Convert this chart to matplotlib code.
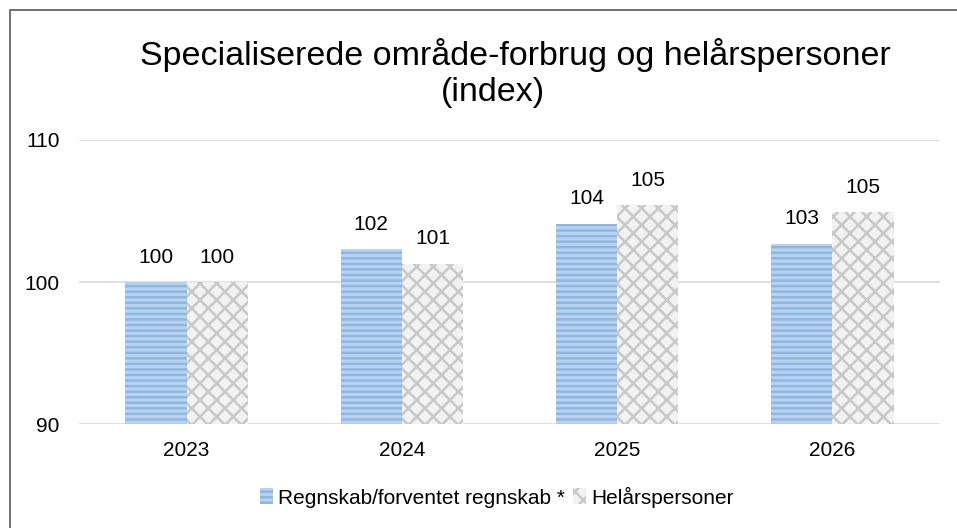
import matplotlib
matplotlib.use("Agg")
from matplotlib import pyplot as plt
from matplotlib.patches import Rectangle
import numpy as np

plt.rcParams['font.family'] = ['Liberation Sans', 'DejaVu Sans']
plt.rcParams['hatch.linewidth'] = 1.8

years = ['2023', '2024', '2025', '2026']
regnskab = [100.0, 102.3, 104.1, 102.7]
helaars = [100.0, 101.3, 105.4, 104.9]
series_names = ['Regnskab/forventet regnskab *', 'Helårspersoner']

fig = plt.figure(figsize=(9.57, 5.28), dpi=100)
ax = fig.add_axes([79 / 957, 1 - 424 / 528, 861 / 957, 284 / 528])

# outer chart frame
fig.patches.append(Rectangle((10 / 957, -0.1), 1.1, 1 - 10 / 528 + 0.1,
                             transform=fig.transFigure, fill=False,
                             edgecolor='#595959', linewidth=1.2))

x = np.arange(len(years))
w = 0.284
b1 = ax.bar(x - w / 2, np.array(regnskab) - 90, w, bottom=90,
            color='#B9D3EE', edgecolor='#8DB6E3', hatch='---', linewidth=0,
            label=series_names[0])
b2 = ax.bar(x + w / 2, np.array(helaars) - 90, w, bottom=90,
            color='#F2F2F2', edgecolor='#C8C8C8', hatch='xx', linewidth=0,
            label=series_names[1])

for bars, vals in ((b1, regnskab), (b2, helaars)):
    for rect, v in zip(bars, vals):
        ax.text(rect.get_x() + rect.get_width() / 2, v + 1.75, f'{v:.0f}',
                ha='center', va='center', fontsize=15)

ax.set_xlim(-0.5, 3.5)
ax.set_ylim(90, 110)
ax.set_yticks([90, 100, 110])
ax.set_xticks(x)
ax.set_xticklabels(years)
ax.tick_params(axis='both', length=0, labelsize=15)
ax.tick_params(axis='x', pad=12)
ax.tick_params(axis='y', pad=14)
ax.grid(axis='y', color='#D9D9D9', linewidth=1.2)
ax.set_axisbelow(True)
for s in ax.spines.values():
    s.set_visible(False)

fig.text(515 / 957, 1 - 55 / 528, 'Specialiserede område-forbrug og helårspersoner',
         ha='center', va='center', fontsize=24.5)
fig.text(493 / 957, 1 - 92 / 528, '(index)', ha='center', va='center', fontsize=24.5)

fig.legend(loc='center', bbox_to_anchor=(497 / 957, 1 - 497 / 528), ncol=2,
           frameon=False, fontsize=15, handlelength=0.6, handleheight=0.8,
           handletextpad=0.25, columnspacing=0.4)

fig.savefig('out.png', dpi=100)
